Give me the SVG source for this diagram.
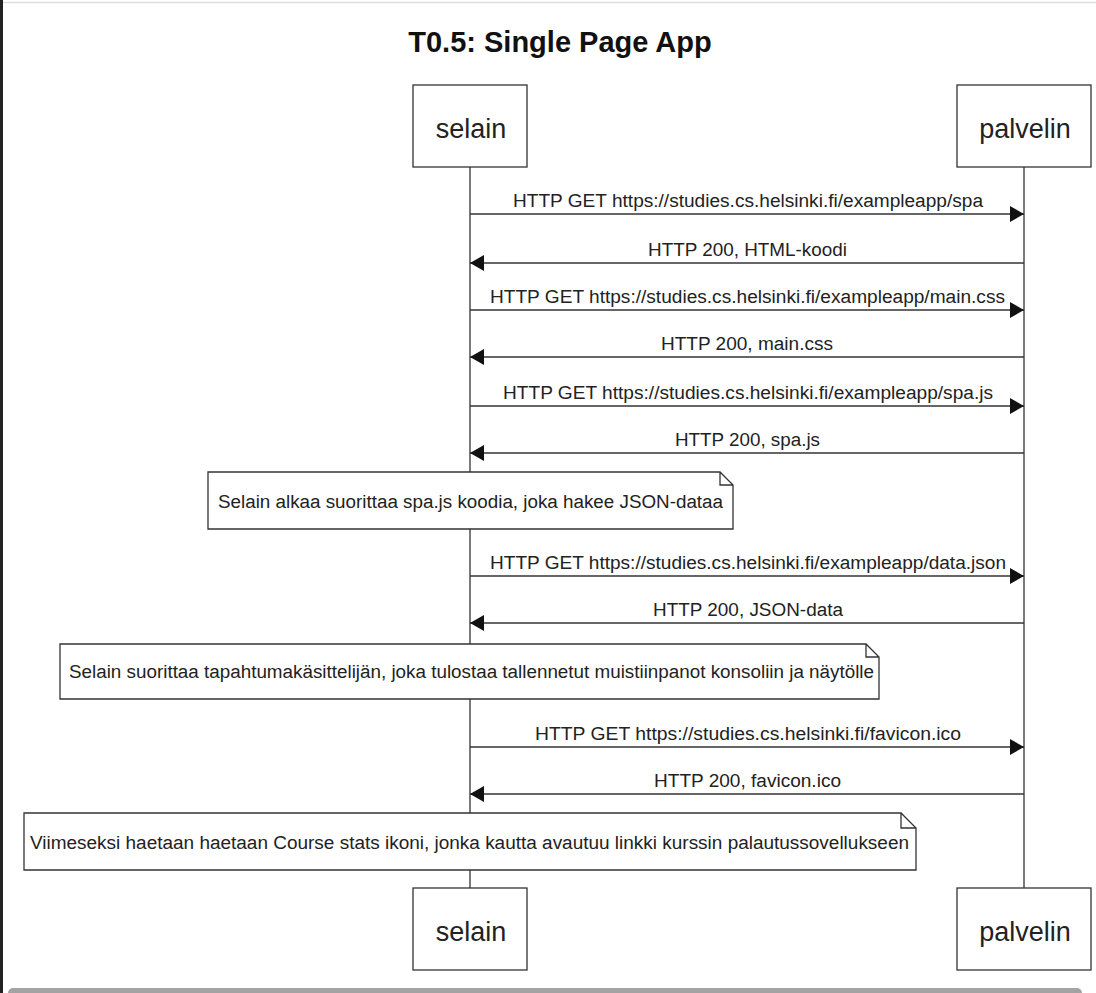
<svg xmlns="http://www.w3.org/2000/svg" width="1096" height="993" viewBox="0 0 1096 993">
<style>
.box{fill:#fff;stroke:#333;stroke-width:1.3}
.life{stroke:#333;stroke-width:1.3}
.msg{stroke:#333;stroke-width:1.3;fill:none}
.lbl{font-family:"Liberation Sans",Arial,sans-serif;font-size:18px;fill:#222;text-anchor:middle}
.actor{font-family:"Liberation Sans",Arial,sans-serif;font-size:27px;fill:#222;text-anchor:middle}
.note{fill:#fff;stroke:#333;stroke-width:1.3}
.ntxt{font-family:"Liberation Sans",Arial,sans-serif;font-size:18px;fill:#222}
.title{font-family:"Liberation Sans",Arial,sans-serif;font-size:29px;font-weight:bold;fill:#111;text-anchor:middle}
</style>
<defs>
<marker id="ah" viewBox="0 0 14 16" refX="14" refY="8" markerWidth="14" markerHeight="16" markerUnits="userSpaceOnUse" orient="auto">
<path d="M0,0 L14,8 L0,16 Z" fill="#111"/>
</marker>
</defs>
<rect x="0" y="0" width="1096" height="993" fill="#fff"/>
<rect x="0" y="0" width="3" height="993" fill="#222"/>
<line x1="3" y1="2.5" x2="1096" y2="2.5" stroke="#ddd" stroke-width="1.5"/>
<rect x="8" y="988" width="1074" height="10" rx="5" fill="#a3a3a3"/>
<text class="title" x="560" y="52">T0.5: Single Page App</text>
<g id="lifelines">
<line class="life" x1="470" y1="167" x2="470" y2="888"/>
<line class="life" x1="1024" y1="167" x2="1024" y2="888"/>
</g>
<g id="selain-top"><rect class="box" x="413" y="85" width="114" height="82"/><text class="actor" x="471" y="138">selain</text></g>
<g id="palvelin-top"><rect class="box" x="957" y="85" width="134" height="82"/><text class="actor" x="1025" y="138">palvelin</text></g>
<g id="selain-bottom"><rect class="box" x="413" y="888" width="114" height="82"/><text class="actor" x="471" y="941">selain</text></g>
<g id="palvelin-bottom"><rect class="box" x="957" y="888" width="134" height="82"/><text class="actor" x="1025" y="941">palvelin</text></g>
<g id="connectors">
<line class="msg" x1="470" y1="214" x2="1024" y2="214" marker-end="url(#ah)"/>
<text class="lbl" x="748" y="207" textLength="470" lengthAdjust="spacingAndGlyphs">HTTP GET https://studies.cs.helsinki.fi/exampleapp/spa</text>
<line class="msg" x1="1024" y1="263" x2="470" y2="263" marker-end="url(#ah)"/>
<text class="lbl" x="747.5" y="256" textLength="199" lengthAdjust="spacingAndGlyphs">HTTP 200, HTML-koodi</text>
<line class="msg" x1="470" y1="310" x2="1024" y2="310" marker-end="url(#ah)"/>
<text class="lbl" x="747.5" y="303" textLength="515" lengthAdjust="spacingAndGlyphs">HTTP GET https://studies.cs.helsinki.fi/exampleapp/main.css</text>
<line class="msg" x1="1024" y1="357" x2="470" y2="357" marker-end="url(#ah)"/>
<text class="lbl" x="747" y="350" textLength="172" lengthAdjust="spacingAndGlyphs">HTTP 200, main.css</text>
<line class="msg" x1="470" y1="406" x2="1024" y2="406" marker-end="url(#ah)"/>
<text class="lbl" x="748" y="399" textLength="490" lengthAdjust="spacingAndGlyphs">HTTP GET https://studies.cs.helsinki.fi/exampleapp/spa.js</text>
<line class="msg" x1="1024" y1="453" x2="470" y2="453" marker-end="url(#ah)"/>
<text class="lbl" x="747.5" y="446" textLength="145" lengthAdjust="spacingAndGlyphs">HTTP 200, spa.js</text>
<line class="msg" x1="470" y1="576" x2="1024" y2="576" marker-end="url(#ah)"/>
<text class="lbl" x="748" y="569" textLength="516" lengthAdjust="spacingAndGlyphs">HTTP GET https://studies.cs.helsinki.fi/exampleapp/data.json</text>
<line class="msg" x1="1024" y1="623" x2="470" y2="623" marker-end="url(#ah)"/>
<text class="lbl" x="748" y="616" textLength="190" lengthAdjust="spacingAndGlyphs">HTTP 200, JSON-data</text>
<line class="msg" x1="470" y1="747" x2="1024" y2="747" marker-end="url(#ah)"/>
<text class="lbl" x="748" y="740" textLength="426" lengthAdjust="spacingAndGlyphs">HTTP GET https://studies.cs.helsinki.fi/favicon.ico</text>
<line class="msg" x1="1024" y1="794" x2="470" y2="794" marker-end="url(#ah)"/>
<text class="lbl" x="747.5" y="787" textLength="187" lengthAdjust="spacingAndGlyphs">HTTP 200, favicon.ico</text>
</g>
<g id="note1"><path class="note" d="M208,472 H720 L733,485 V529 H208 Z M720,472 V485 H733"/><text class="ntxt" x="218" y="508" textLength="505" lengthAdjust="spacingAndGlyphs">Selain alkaa suorittaa spa.js koodia, joka hakee JSON-dataa</text></g>
<g id="note2"><path class="note" d="M60,644 H866 L879,657 V699 H60 Z M866,644 V657 H879"/><text class="ntxt" x="69" y="678" textLength="805" lengthAdjust="spacingAndGlyphs">Selain suorittaa tapahtumakäsittelijän, joka tulostaa tallennetut muistiinpanot konsoliin ja näytölle</text></g>
<g id="note3"><path class="note" d="M24,813 H901 L916,828 V870 H24 Z M901,813 V828 H916"/><text class="ntxt" x="30" y="849" textLength="879" lengthAdjust="spacingAndGlyphs">Viimeseksi haetaan haetaan Course stats ikoni, jonka kautta avautuu linkki kurssin palautussovellukseen</text></g>
</svg>
